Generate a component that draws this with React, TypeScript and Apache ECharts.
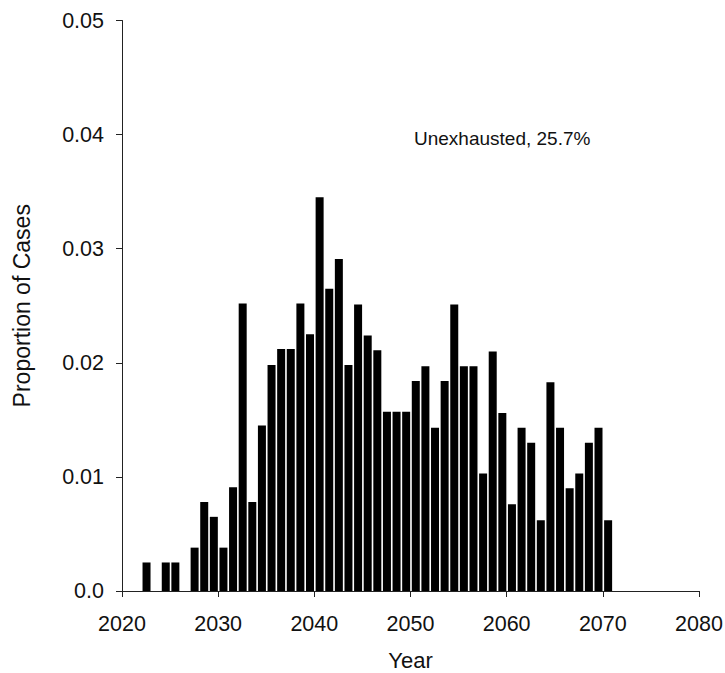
import React, { useEffect, useRef } from "react";
import * as echarts from "echarts";

const years: number[] = [
  2022, 2024, 2025, 2027, 2028, 2029, 2030, 2031, 2032, 2033, 2034, 2035, 2036,
  2037, 2038, 2039, 2040, 2041, 2042, 2043, 2044, 2045, 2046, 2047, 2048, 2049,
  2050, 2051, 2052, 2053, 2054, 2055, 2056, 2057, 2058, 2059, 2060, 2061, 2062,
  2063, 2064, 2065, 2066, 2067, 2068, 2069, 2070,
];

const proportions: number[] = [
  0.0025, 0.0025, 0.0025, 0.0038, 0.0078, 0.0065, 0.0038, 0.0091, 0.0252,
  0.0078, 0.0145, 0.0198, 0.0212, 0.0212, 0.0252, 0.0225, 0.0345, 0.0265,
  0.0291, 0.0198, 0.0251, 0.0224, 0.0211, 0.0157, 0.0157, 0.0157, 0.0184,
  0.0197, 0.0143, 0.0184, 0.0251, 0.0197, 0.0197, 0.0103, 0.021, 0.0156,
  0.0076, 0.0143, 0.013, 0.0062, 0.0183, 0.0143, 0.009, 0.0103, 0.013, 0.0143,
  0.0062,
];

const yTicks: string[] = ["0.0", "0.01", "0.02", "0.03", "0.04", "0.05"];
const annotation = "Unexhausted, 25.7%";

export default function App() {
  const ref = useRef<HTMLDivElement>(null);

  useEffect(() => {
    if (!ref.current) return;
    const chart = echarts.init(ref.current, null, { renderer: "svg" });
    const font = "'Liberation Sans', Arial, Helvetica, sans-serif";
    const axisColor = "#222";
    chart.setOption({
      animation: false,
      backgroundColor: "#ffffff",
      textStyle: { fontFamily: font },
      grid: {
        left: 122,
        right: 26,
        top: 20.5,
        bottom: 82,
        containLabel: false,
        outerBoundsMode: "none",
      },
      xAxis: {
        type: "value",
        min: 2020,
        max: 2080,
        interval: 10,
        offset: 9,
        splitLine: { show: false },
        axisLine: { show: true, lineStyle: { color: axisColor, width: 1 } },
        axisTick: { show: true, inside: false, length: 6, lineStyle: { color: axisColor } },
        axisLabel: {
          color: "#111",
          fontSize: 21.5,
          margin: 13,
          fontFamily: font,
          formatter: (v: number) => String(v),
        },
        name: "Year",
        nameLocation: "middle",
        nameGap: 49,
        nameTextStyle: { color: "#111", fontSize: 22, fontFamily: font },
      },
      yAxis: {
        type: "value",
        min: 0,
        max: 0.05,
        interval: 0.01,
        splitLine: { show: false },
        axisLine: { show: true, lineStyle: { color: axisColor, width: 1 } },
        axisTick: { show: true, inside: false, length: 6, lineStyle: { color: axisColor } },
        axisLabel: {
          color: "#111",
          fontSize: 21.5,
          margin: 18,
          fontFamily: font,
          formatter: (v: number) => yTicks[Math.round(v / 0.01)] ?? String(v),
        },
        name: "Proportion of Cases",
        nameLocation: "middle",
        nameGap: 89,
        nameRotate: 90,
        nameTextStyle: { color: "#111", fontSize: 23, fontFamily: font },
      },
      graphic: [
        {
          type: "text",
          left: 414,
          top: 129,
          style: { text: annotation, fontSize: 19, fill: "#111", fontFamily: font },
        },
      ],
      series: [
        {
          type: "bar",
          barWidth: 8,
          itemStyle: { color: "#000" },
          data: years.map((y, i) => [y + 0.55, proportions[i]]),
        },
      ],
    });
    return () => chart.dispose();
  }, []);

  return (
    <div
      ref={ref}
      style={{ position: "fixed", left: 0, top: 0, width: 725, height: 673, background: "#fff" }}
    />
  );
}
